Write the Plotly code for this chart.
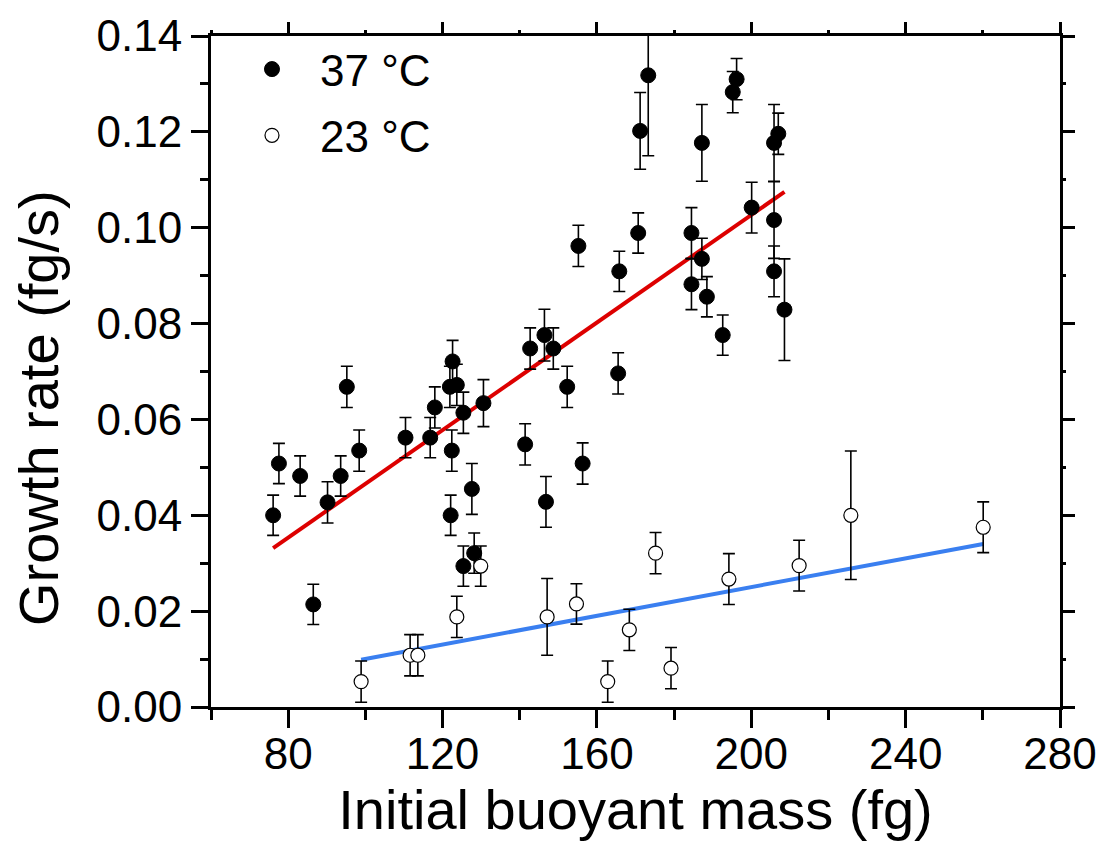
import plotly.graph_objects as go
import numpy as np

# 37 °C data
mass_37 = [76.1, 77.6, 83.1, 86.5, 90.2, 93.6, 95.2, 98.4, 110.4, 116.8,
           118.0, 122.6, 121.9, 123.7, 125.4, 130.6, 122.4, 127.6, 122.1, 128.2,
           125.4, 141.4, 142.7, 146.4, 148.7, 146.8, 152.3, 155.2, 156.3, 165.5,
           165.8, 170.7, 171.2, 173.3, 184.5, 184.5, 187.2, 187.2, 188.5, 192.6,
           195.2, 196.2, 200.1, 205.9, 207.0, 205.9, 205.9, 208.6]
rate_37 = [0.0400, 0.0508, 0.0482, 0.0214, 0.0427, 0.0482, 0.0668, 0.0535, 0.0562, 0.0562,
           0.0625, 0.0721, 0.0668, 0.0672, 0.0614, 0.0634, 0.0535, 0.0455, 0.0400, 0.0321,
           0.0294, 0.0548, 0.0748, 0.0776, 0.0748, 0.0428, 0.0668, 0.0962, 0.0508, 0.0696,
           0.0909, 0.0989, 0.1202, 0.1318, 0.0989, 0.0882, 0.0935, 0.1177, 0.0856, 0.0776,
           0.1283, 0.1310, 0.1042, 0.1177, 0.1196, 0.1016, 0.0909, 0.0829]
err_37 = [0.0042, 0.0042, 0.0042, 0.0042, 0.0043, 0.0042, 0.0043, 0.0043, 0.0042, 0.0042,
          0.0043, 0.0044, 0.0043, 0.0043, 0.0043, 0.0049, 0.0043, 0.0053, 0.0042, 0.0042,
          0.0042, 0.0043, 0.0043, 0.0054, 0.0043, 0.0053, 0.0043, 0.0043, 0.0043, 0.0043,
          0.0042, 0.0042, 0.0080, 0.0168, 0.0053, 0.0053, 0.0043, 0.0080, 0.0042, 0.0042,
          0.0043, 0.0043, 0.0053, 0.0080, 0.0043, 0.0080, 0.0053, 0.0106]

# 23 °C data
mass_23 = [98.9, 111.6, 113.6, 123.7, 129.9, 147.1, 154.7, 162.8, 168.4, 175.2,
           179.2, 194.2, 212.4, 225.8, 260.1]
rate_23 = [0.0053, 0.0108, 0.0108, 0.0188, 0.0294, 0.0188, 0.0215, 0.0053, 0.0161, 0.0321,
           0.0081, 0.0267, 0.0295, 0.0400, 0.0375]
err_23 = [0.0043, 0.0043, 0.0043, 0.0043, 0.0042, 0.0080, 0.0042, 0.0043, 0.0043, 0.0043,
          0.0043, 0.0053, 0.0053, 0.0134, 0.0053]

# linear fits (intercept, slope)
fit_37 = [-0.00954, 0.000561]
fit_23 = [-0.00494, 0.0001498]

FONT = "Liberation Sans, Arial, sans-serif"

fx37 = np.array([min(mass_37), max(mass_37)])
fx23 = np.array([min(mass_23), max(mass_23)])

fig = go.Figure()
fig.add_trace(go.Scatter(x=fx37, y=fit_37[0] + fit_37[1] * fx37, mode="lines",
                         line=dict(color="#dd0000", width=4), showlegend=False))
fig.add_trace(go.Scatter(x=fx23, y=fit_23[0] + fit_23[1] * fx23, mode="lines",
                         line=dict(color="#3a7ff0", width=4), showlegend=False))
fig.add_trace(go.Scatter(x=mass_37, y=rate_37, mode="markers", name="37 °C",
                         legendgroup="a",
                         marker=dict(symbol="circle", size=15, color="black",
                                     line=dict(color="black", width=1)),
                         error_y=dict(type="data", array=err_37, color="black",
                                      thickness=1.6, width=6)))
fig.add_trace(go.Scatter(x=mass_23, y=rate_23, mode="markers", name="23 °C",
                         legendgroup="b",
                         marker=dict(symbol="circle", size=14, color="white",
                                     line=dict(color="black", width=1.2)),
                         error_y=dict(type="data", array=err_23, color="black",
                                      thickness=1.6, width=6)))
# helper trace for top/right mirrored axes
fig.add_trace(go.Scatter(x=[None], y=[None], xaxis="x2", yaxis="y2",
                         showlegend=False, hoverinfo="skip"))

tickfont = dict(family=FONT, size=44, color="black")
fig.update_layout(
    width=1104, height=853,
    margin=dict(l=203, r=52, t=28, b=154),
    paper_bgcolor="white", plot_bgcolor="white",
    font=dict(family=FONT, color="black"),
    xaxis=dict(range=[60, 280], tick0=80, dtick=40, ticks="outside", ticklen=18,
               tickwidth=3, tickcolor="black", showline=True, linewidth=3,
               linecolor="black", showgrid=False, zeroline=False,
               minor=dict(dtick=20, ticklen=10, tickwidth=3, ticks="outside",
                          tickcolor="black", showgrid=False),
               tickfont=tickfont, automargin=False, ticklabelstandoff=-12,
               title=dict(text="Initial buoyant mass (fg)",
                          font=dict(family=FONT, size=56), standoff=12)),
    yaxis=dict(range=[0, 0.14], tick0=0, dtick=0.02, tickformat=".2f",
               ticks="outside", ticklen=17, tickwidth=3, tickcolor="black",
               showline=True, linewidth=3, linecolor="black", showgrid=False,
               zeroline=False,
               minor=dict(dtick=0.01, ticklen=8, tickwidth=3, ticks="outside",
                          tickcolor="black", showgrid=False),
               tickfont=tickfont, automargin=False),
    xaxis2=dict(overlaying="x", side="top", anchor="y", matches="x",
                range=[60, 280], tick0=80, dtick=40, ticks="outside", ticklen=11,
                tickwidth=3, tickcolor="black", showline=True, linewidth=3,
                linecolor="black", showgrid=False, zeroline=False,
                showticklabels=False,
                minor=dict(dtick=20, ticklen=3, tickwidth=3, ticks="outside",
                           tickcolor="black", showgrid=False)),
    yaxis2=dict(overlaying="y", side="right", anchor="x", matches="y",
                range=[0, 0.14], tick0=0, dtick=0.02, ticks="outside", ticklen=12,
                tickwidth=3, tickcolor="black", showline=True, linewidth=3,
                linecolor="black", showgrid=False, zeroline=False,
                showticklabels=False,
                minor=dict(dtick=0.01, ticklen=3, tickwidth=3, ticks="outside",
                           tickcolor="black", showgrid=False)),
    legend=dict(x=0.0153, y=1.003, xanchor="left", yanchor="top",
                bgcolor="rgba(0,0,0,0)", font=dict(family=FONT, size=44),
                itemwidth=86, tracegroupgap=6),
    showlegend=True,
    annotations=[dict(text="Growth rate (fg/s)", textangle=-90, showarrow=False,
                      xref="paper", yref="paper", x=-0.2038, y=0.4456,
                      xanchor="center", yanchor="middle",
                      font=dict(family=FONT, size=56, color="black"))],
)

fig.write_html("out.html")
